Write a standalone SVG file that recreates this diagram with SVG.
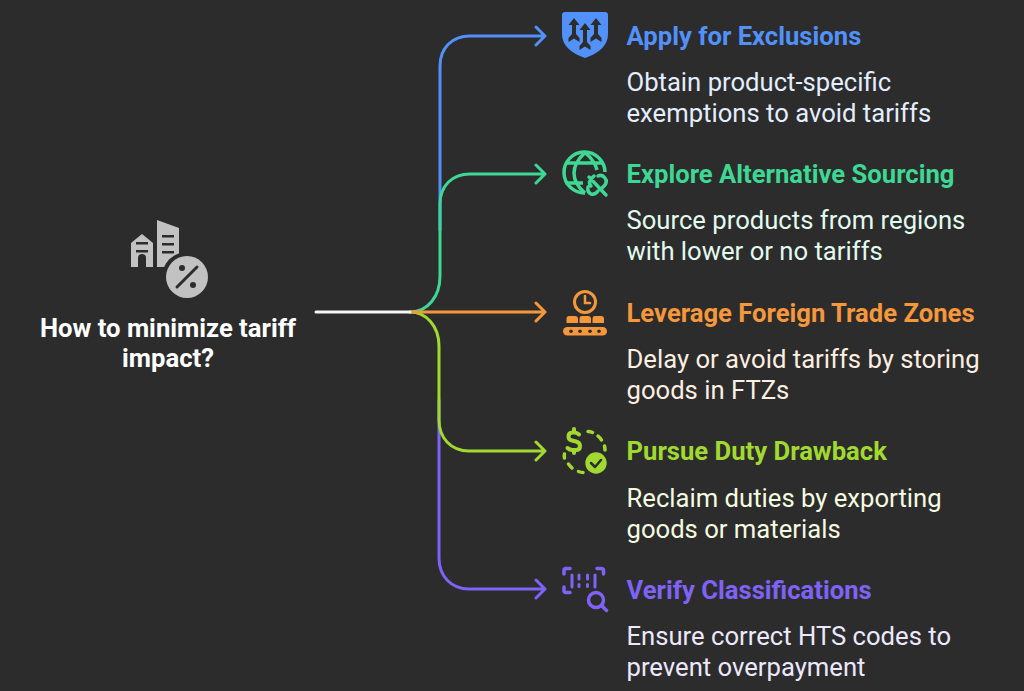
<svg xmlns="http://www.w3.org/2000/svg" width="1024" height="691" viewBox="0 0 1024 691">
<style>
text{font-family:Roboto,"Liberation Sans",sans-serif;font-size:25.65px}
.t{font-weight:700}
.d{font-weight:400}
.c{fill:none;stroke-width:3;stroke-linecap:round;stroke-linejoin:round}
</style>
<rect width="1024" height="691" fill="#2c2c2c"/>
<g id="connectors">
<path class="c" stroke="#7f63f6" d="M439 400V558C439 576 451 589 469 589H545M536 580L545 589L536 598"/>
<path class="c" stroke="#a1d930" d="M410 312C426 312 439 326 439 346V420C439 438 451 451 469 451H545M536 442L545 451L536 460"/>
<path class="c" stroke="#5191f9" d="M440 230V66C440 48 452 36 470 36H545M536 27L545 36L536 45"/>
<path class="c" stroke="#3ed793" d="M410 312C428 312 440 296 440 276V204C440 186 452 174 470 174H545M536 165L545 174L536 183"/>
<path class="c" stroke="#f5973b" d="M410 312H545M536 303L545 312L536 321"/>
<path class="c" stroke="#f4f4f4" d="M316 312H410"/>
</g>
<g id="root">
<path fill="#c2c2c2" d="M131 243L142 234L153 243V267H146V258Q146 254 142 254Q138 254 138 258V267H131Z"/>
<path fill="#c2c2c2" d="M157 220L179 228V267H157Z"/>
<path fill="#2c2c2c" d="M136 242h12v2.500h-12zM136 250h12v2.500h-12zM162 235h12v2.500h-12zM162 243h12v2.500h-12zM162 251h12v2.500h-12z"/>
<circle cx="187" cy="277" r="25" fill="#2c2c2c"/>
<circle cx="187" cy="277" r="21" fill="#c2c2c2"/>
<path stroke="#2c2c2c" stroke-width="3" stroke-linecap="round" d="M177 287L197 267"/>
<circle cx="182" cy="268" r="3" fill="#2c2c2c"/><circle cx="193" cy="285" r="3" fill="#2c2c2c"/>
<text class="t" x="168" y="336.500" text-anchor="middle" fill="#fff">How to minimize tariff</text>
<text class="t" x="168" y="367" text-anchor="middle" fill="#fff">impact?</text>
</g>
<g id="node1">
<path fill="#5191f9" d="M565 12H605Q608 12 608 15V34Q608 50 585 58Q562 50 562 34V15Q562 12 565 12Z"/>
<path fill="#2c2c2c" d="M574 18L579.500 25H576V34L579.500 38V42L574 38.500L568.500 42V38L572 34V25H568.500ZM596 18L601.500 25H598V34L601.500 38V42L596 38.500L590.500 42V38L594 34V25H590.500ZM585 23L590.500 30H587V42L590.500 46V50L585 46.500L579.500 50V46L583 42V30H579.500Z"/>
<text class="t" x="626.500" y="45" fill="#5191f9">Apply for Exclusions</text>
<text class="d" x="626.500" y="90.500" fill="#e3eefe">Obtain product-specific</text>
<text class="d" x="626.500" y="121.500" fill="#e3eefe">exemptions to avoid tariffs</text>
</g>
<g id="node2">
<g fill="none" stroke="#3ed793" stroke-width="3.500">
<path d="M605 172A20.500 20.500 0 1 0 585 193"/>
<path d="M585 152.500Q574 163 574 173Q574 184 585 193M585 152.500Q595 161 597 170M567 163H603M565.500 183H583"/>
</g>
<g fill="none" stroke="#3ed793" stroke-width="3.500" stroke-linecap="round">
<path d="M594 176L591 179Q588 183 591 186M598 176Q602 174 605 178Q608 182 604 186L602 188M588 187Q587 192 591 194Q595 195 598 191M589 177L606 195"/>
</g>
<text class="t" x="626.500" y="183" fill="#3ed793">Explore Alternative Sourcing</text>
<text class="d" x="626.500" y="229" fill="#e2faef">Source products from regions</text>
<text class="d" x="626.500" y="260" fill="#e2faef">with lower or no tariffs</text>
</g>
<g id="node3">
<circle cx="585" cy="302" r="10.500" fill="none" stroke="#f5973b" stroke-width="3"/>
<path d="M585 296V303H590" fill="none" stroke="#f5973b" stroke-width="2.500" stroke-linecap="round"/>
<path fill="#f5973b" d="M569 316H575Q578 316 578 319V323H566.500V319Q566.500 316 569 316ZM582 316H588Q591 316 591 319V323H579.500V319Q579.500 316 582 316ZM595 316H601Q604 316 604 319V323H592.500V319Q592.500 316 595 316Z"/>
<rect x="563" y="327" width="44" height="8.500" rx="4.250" fill="#f5973b"/>
<g fill="#2c2c2c"><circle cx="571" cy="331.200" r="1.800"/><circle cx="580" cy="331.200" r="1.800"/><circle cx="590" cy="331.200" r="1.800"/><circle cx="599" cy="331.200" r="1.800"/></g>
<text class="t" x="626.500" y="321.500" fill="#f5973b">Leverage Foreign Trade Zones</text>
<text class="d" x="626.500" y="368" fill="#fdefe2">Delay or avoid tariffs by storing</text>
<text class="d" x="626.500" y="399" fill="#fdefe2">goods in FTZs</text>
</g>
<g id="node4">
<path fill="none" stroke="#a1d930" stroke-width="4" stroke-linecap="round" stroke-linejoin="round" d="M579 434.500Q577 432.500 574 432.500H572.500Q568.500 432.500 568.500 436.500Q568.500 440 572 440.500L576 441.500Q580 442.500 580 446Q580 450 576 450H572.500Q569.500 450 567.500 448M574 429V432M574 450V453"/>
<path fill="none" stroke="#a1d930" stroke-width="3.500" stroke-linecap="round" d="M588 431.500Q590.500 431.500 592.500 432.500M598 436Q600.500 438 601.500 440M604.500 446Q605 448 605 450M564.500 454Q564 456 564.500 458M568.500 464Q570 466 572 468M578.500 471.500Q581 472.500 583 472.500"/>
<circle cx="596" cy="463" r="10.700" fill="#a1d930"/>
<path d="M591 463L595 467L601 460" fill="none" stroke="#2c2c2c" stroke-width="2.500" stroke-linecap="round" stroke-linejoin="round"/>
<text class="t" x="626.500" y="460" fill="#a1d930">Pursue Duty Drawback</text>
<text class="d" x="626.500" y="506.500" fill="#f3fbe0">Reclaim duties by exporting</text>
<text class="d" x="626.500" y="537.500" fill="#f3fbe0">goods or materials</text>
</g>
<g id="node5">
<path fill="none" stroke="#7f63f6" stroke-width="3.500" stroke-linecap="round" stroke-linejoin="round" d="M570 568.500H566Q564 568.500 564 570.500V574M597 568.500H601Q603.500 568.500 603.500 570.500V574M564 587V590.500Q564 592.500 566 592.500H570"/>
<path fill="none" stroke="#7f63f6" stroke-width="3" stroke-linecap="round" d="M572 575V587M595 575V587M579 575V579M587.500 575V579M579 584.500V586.500M587.500 584.500V586.500"/>
<circle cx="596" cy="600" r="7.500" fill="none" stroke="#7f63f6" stroke-width="3.500"/>
<path d="M602 606L606.500 610.500" stroke="#7f63f6" stroke-width="3.500" stroke-linecap="round"/>
<text class="t" x="626.500" y="598.500" fill="#7f63f6">Verify Classifications</text>
<text class="d" x="626.500" y="645" fill="#ece8fe">Ensure correct HTS codes to</text>
<text class="d" x="626.500" y="676" fill="#ece8fe">prevent overpayment</text>
</g>
</svg>
